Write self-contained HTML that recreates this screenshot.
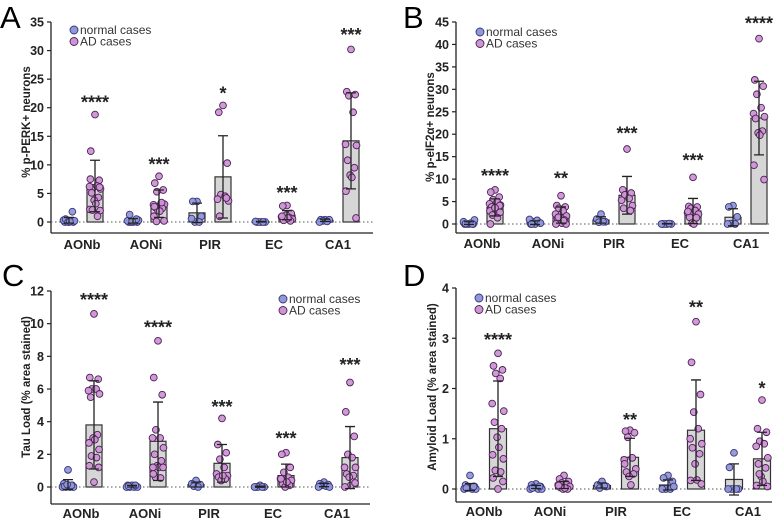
<!DOCTYPE html>
<html><head><meta charset="utf-8">
<style>
html,body{margin:0;padding:0;background:#fff;}
svg{display:block;font-family:"Liberation Sans",Arial,sans-serif;}
</style></head>
<body>
<svg id="fig" width="778" height="519" viewBox="0 0 778 519" xmlns="http://www.w3.org/2000/svg"></svg>
<script>
const categories = ["AONb","AONi","PIR","EC","CA1"];

// Panel A: % p-PERK+ neurons
const aNormal = [[0,0,0,0.1,0.2,0.3,0.2,0.5,1.8,0,0.1],[0,0,0,0,0.1,0.2,0.3,1.3,0.5,0.1],[3.6,3.6,1.0,0,0,0.6],[0,0,0,0,0,0.1],[0.4,0.4,0.4,0.2,0.1,0]];
const aAD = [[18.8,12.4,7.3,6.0,6.3,6.2,5.8,5.1,4.3,3.8,3.2,2.2,2.0,2.1,1.0,7.5,6.1],[8.0,6.8,5.6,5.3,3.3,3.0,3.1,2.5,2.4,2.0,1.9,1.0,0.2,0.1,3.4,2.7],[20.4,19.2,10.3,4.8,4.5,4.0,3.7,1.0,4.2],[2.9,2.8,1.5,1.0,0.8,0.9,0.5,0.3,0.2,1.2,0.7,1.0],[30.2,22.8,22.3,22.1,19.2,13.6,13.4,10.8,9.5,8.2,7.8,5.4,0.7]];
const aNormMean = [0.3,0.2,1.6,0.05,0.3];
const aNormSD = [0.5,0.4,1.7,0.05,0.2];
const aADMean = [6.3,3.2,7.9,1.2,14.2];
const aADSD = [4.5,2.4,7.2,0.8,8.4];
const aStars = ["****","***","*","***","***"];
const aStarVal = [21.6,10.8,23.2,5.8,33.4];
const aTicks = [0,5,10,15,20,25,30,35];

// Panel B: % p-eIF2a+ neurons
const bNormal = [[0,0,0,0,0.2,0.5,0.9,0.1,0],[0,0,0.3,0.5,0.8,1.0,0.2,0],[2.2,1.1,0.5,0.4,0.5],[0,0,0,0,0.1,0],[4.1,3.8,1.6,0.1,0,0]];
const bAD = [[7.6,7.1,6.0,5.4,4.9,4.5,4.2,3.8,3.5,3.3,3.2,2.9,2.6,2.0,1.4,0,4.1,3.6],[6.3,4.1,3.8,3.5,2.9,2.2,1.8,1.2,0.9,0.5,0.2,0,0,1.5,0.7],[16.7,7.6,6.9,6.5,5.7,5.3,4.1,3.5,3.0],[10.4,3.9,3.8,3.5,3.0,2.5,2.2,1.5,1.4,0.2,0,2.8],[41.3,32.1,30.7,28.9,25.9,24.6,23.9,23.5,20.7,20.3,19.8,13.1,9.9]];
const bNormMean = [0.2,0.3,0.9,0.05,1.5];
const bNormSD = [0.3,0.4,0.7,0.05,1.9];
const bADMean = [3.7,2.0,6.4,2.9,23.6];
const bADSD = [1.9,1.8,4.2,2.8,8.2];
const bStars = ["****","**","***","***","****"];
const bStarVal = [11.6,11.0,21.1,15.0,45.6];
const bTicks = [0,5,10,15,20,25,30,35,40,45];

// Panel C: Tau load
const cNormal = [[1.05,0.2,0.1,0,0,0,0,0.05,0.1,0.15],[0.1,0.1,0.05,0,0,0,0,0.05,0.1],[0.4,0.2,0.15,0.05,0],[0.1,0,0,0,0,0],[0.3,0.2,0.15,0.1,0.05,0,0]];
const cAD = [[10.6,6.7,6.6,6.0,6.0,5.9,5.7,5.5,3.2,3.0,2.9,2.7,2.3,1.9,1.8,1.3,1.2,0.3],[8.95,6.7,5.65,3.5,3.0,3.0,2.4,2.0,1.6,1.3,1.2,1.2,1.2,0.6,0.55,0.8],[4.2,2.6,2.1,1.7,1.2,0.8,0.7,0.6,0.5,0.4,0.7],[2.1,2.0,1.2,0.9,0.6,0.5,0.4,0.2,0.1,0,0.3,0.5],[6.4,4.6,3.1,2.0,1.8,1.2,1.2,0.8,0.7,0.6,0.1,0,0.25]];
const cNormMean = [0.15,0.05,0.15,0.02,0.12];
const cNormSD = [0.3,0.05,0.15,0.03,0.1];
const cADMean = [3.8,2.8,1.45,0.7,1.8];
const cADSD = [2.7,2.4,1.15,0.7,1.9];
const cStars = ["****","****","***","***","***"];
const cStarVal = [11.7,10.0,5.15,3.2,7.7];
const cTicks = [0,2,4,6,8,10,12];

// Panel D: Amyloid load
const dNormal = [[0.27,0.08,0.05,0.02,0,0,0,0.02,0.05],[0.1,0.08,0.05,0.03,0,0,0,0.02,0.05],[0.15,0.08,0.05,0.02,0.06],[0.27,0.22,0.15,0,0,0,0.05],[0.72,0.43,0,0,0,0]];
const dAD = [[2.7,2.45,2.37,2.3,2.2,1.7,1.55,1.33,1.2,1.03,0.83,0.68,0.6,0.37,0.34,0.22,0.15,0],[0.27,0.2,0.15,0.12,0.1,0.08,0.05,0.03,0,0,0.02,0.07],[1.17,1.15,1.12,1.03,0.62,0.58,0.4,0.34,0.3,0.25,0.08,0.5],[3.33,2.52,1.88,1.53,1.2,1.0,0.9,0.82,0.7,0.5,0.18,0.17,0.1],[1.77,1.2,1.13,0.95,0.9,0.85,0.62,0.5,0.42,0.25,0.15,0.07,0.05,0.3]];
const dNormMean = [0.04,0.04,0.07,0.08,0.19];
const dNormSD = [0.07,0.03,0.05,0.1,0.31];
const dADMean = [1.2,0.08,0.63,1.17,0.6];
const dADSD = [0.95,0.07,0.38,1.0,0.53];
const dStars = ["****","","**","**","*"];
const dStarVal = [3.04,0,1.45,3.69,2.08];
const dTicks = [0,1,2,3,4];

const NS = "http://www.w3.org/2000/svg";
const svg = document.getElementById("fig");
function mk(tag, attrs, parent){
  const e = document.createElementNS(NS, tag);
  for (const k in attrs) e.setAttribute(k, attrs[k]);
  (parent||svg).appendChild(e);
  return e;
}
const jit = [0,-5,5,-2.5,2.5,-6.5,6.5,-4,4,-1,1,-6,6,-3,3,-5.5,5.5,0];

function panel(p){
  const g = mk("g",{});
  
  
  const ys = v => p.y0 - (v - 0) * (p.y0 - p.yTop) / p.ymax;
  const xs = i => p.gx0 + i * p.gstep;

  const L = mk("text",{x:p.lx,y:p.ly,"font-size":31,fill:"#000"},g);
  L.textContent = p.id;
  
  

  const ya = mk("line",{x1:p.ax,x2:p.ax,y1:p.yTop,y2:p.axisY,stroke:"#222","stroke-width":1.3},g);
  
  
  p.ticks.forEach(t=>{
    const y = ys(t);
    const tl = mk("line",{x1:p.ax-4,x2:p.ax,y1:y,y2:y,stroke:"#222","stroke-width":1.2},g);
    
    
    const tx = mk("text",{x:p.ax-7,y:y+4.5,"font-size":12.5,"font-weight":"bold","text-anchor":"end",fill:"#222"},g);
    tx.textContent = t;
    
    
  });
  const xa = mk("line",{x1:p.ax,x2:p.axEnd,y1:p.axisY,y2:p.axisY,stroke:"#222","stroke-width":1.3},g);
  
  
  const z = mk("line",{x1:p.ax,x2:p.axEnd,y1:ys(0),y2:ys(0),stroke:"#555","stroke-width":1,"stroke-dasharray":"1.5,2.5"},g);
  
  
  const yt = mk("text",{x:0,y:0,"font-size":11.5,"font-weight":"bold","text-anchor":"middle",fill:"#222",transform:`translate(${p.ytx},${p.yty}) rotate(-90)`},g);
  yt.innerHTML = p.ytitle;
  
  

  categories.forEach((c,i)=>{
    const cx = xs(i);
    const cl = mk("text",{x:cx,y:p.catY,"font-size":13,"font-weight":"bold","text-anchor":"middle",fill:"#222"},g);
    cl.textContent = c;
    
    
    [[p.normal,p.nMean,p.nSD,-p.off,"#8f98d8","#3b3577","normal"],[p.ad,p.adMean,p.adSD,p.off,"#cf94d3","#4a2456","ad"]].forEach(s=>{
      const bx = cx + s[3];
      const m = s[1][i], sd = s[2][i];
      const top = ys(m);
      const bar = mk("rect",{x:bx-p.bw/2,y:Math.min(top,ys(0)),width:p.bw,height:Math.max(0.5,Math.abs(ys(0)-top)),fill:"#d6d6d6",stroke:"#333","stroke-width":1.2},g);
      
      
      s[0][i].forEach((v,k)=>{
        const dot = mk("circle",{cx:bx+jit[k%jit.length]*p.bw/19,cy:ys(v),r:3.4,fill:s[4],stroke:s[5],"stroke-width":0.9,"fill-opacity":0.95},g);
        
        
      });
      const e1 = ys(m+sd), e2 = ys(m-sd);
      const eb = mk("path",{d:`M${bx},${e1}V${e2}M${bx-5},${e1}H${bx+5}M${bx-5},${e2}H${bx+5}`,stroke:"#222","stroke-width":1.3,fill:"none"},g);
      
      
    });
    if (p.stars[i]) {
      const st = mk("text",{x:cx+p.off,y:ys(p.starVal[i])+10,"font-size":18,"font-weight":"bold","text-anchor":"middle",fill:"#222"},g);
      st.textContent = p.stars[i];
      
      
    }
  });
  [["normal cases","#8f98d8","#3b3577"],["AD cases","#cf94d3","#4a2456"]].forEach((l,k)=>{
    const yy = p.legY + k*11.5;
    const lc = mk("circle",{cx:p.legX,cy:yy,r:4,fill:l[1],stroke:l[2],"stroke-width":0.9},g);
    
    
    const lt = mk("text",{x:p.legX+6,y:yy+4,"font-size":12,fill:"#333"},g);
    lt.textContent = l[0];
    
    
  });
}

panel({id:"A",lx:0,ly:28,ax:51,axEnd:373,yTop:22,y0:222,ymax:35,axisY:233,gx0:82,gstep:64,off:13,bw:16,catY:249,
  ticks:aTicks,ytx:30,yty:122,ytitle:"% p-PERK+ neurons",normal:aNormal,ad:aAD,nMean:aNormMean,nSD:aNormSD,adMean:aADMean,adSD:aADSD,stars:aStars,starVal:aStarVal,legX:74,legY:30});
panel({id:"B",lx:403,ly:28,ax:456,axEnd:769,yTop:22,y0:224,ymax:45,axisY:233,gx0:482,gstep:66,off:13,bw:16,catY:248,
  ticks:bTicks,ytx:434,yty:127,ytitle:"% p-eIF2\u03b1+ neurons",normal:bNormal,ad:bAD,nMean:bNormMean,nSD:bNormSD,adMean:bADMean,adSD:bADSD,stars:bStars,starVal:bStarVal,legX:480,legY:32});
panel({id:"C",lx:2,ly:286,ax:51,axEnd:370,yTop:291,y0:487,ymax:12,axisY:504,gx0:81,gstep:64,off:13,bw:16,catY:518,
  ticks:cTicks,ytx:30,yty:387,ytitle:"Tau Load (% area stained)",normal:cNormal,ad:cAD,nMean:cNormMean,nSD:cNormSD,adMean:cADMean,adSD:cADSD,stars:cStars,starVal:cStarVal,legX:283,legY:299});
panel({id:"D",lx:403,ly:286,ax:456,axEnd:772,yTop:288,y0:489,ymax:4,axisY:502,gx0:484,gstep:66,off:14,bw:17,catY:516,
  ticks:dTicks,ytx:436,yty:387,ytitle:"Amyloid Load (% area stained)",normal:dNormal,ad:dAD,nMean:dNormMean,nSD:dNormSD,adMean:dADMean,adSD:dADSD,stars:dStars,starVal:dStarVal,legX:479,legY:298});
</script>
</body></html>
